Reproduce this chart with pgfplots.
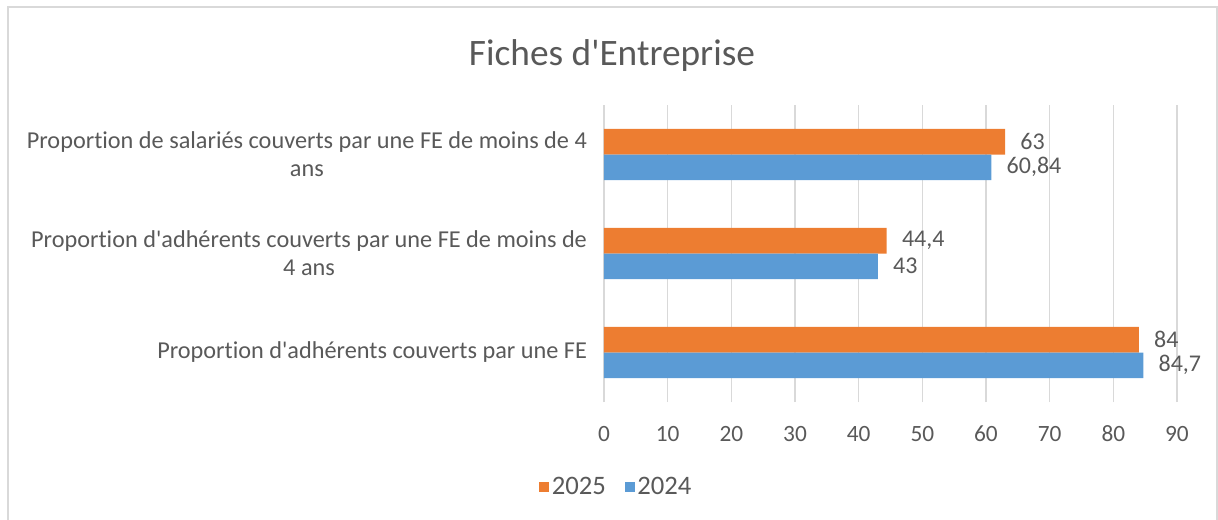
\documentclass[border=0pt]{standalone}
\usepackage{fontspec}
\setmainfont{Carlito}[Ligatures=NoCommon]
\usepackage{pgfplots}
\pgfplotsset{compat=1.18}

\definecolor{orangeXL}{HTML}{ED7D31}
\definecolor{blueXL}{HTML}{5B9BD5}
\definecolor{txtgray}{HTML}{595959}
\definecolor{gridgray}{HTML}{D9D9D9}

\begin{document}
\begin{tikzpicture}
\useasboundingbox (0,0) rectangle (913.5pt,-389.25pt);
% chart frame
\draw[gridgray,line width=1.2pt] (6pt,-420pt) -- (6pt,-5.25pt) -- (912.75pt,-5.25pt) -- (912.75pt,-420pt);
\node[txtgray,font=\fontsize{28}{32}\selectfont] at (459pt,-41.5pt) {Fiches d\textquotesingle Entreprise};

\begin{axis}[
  at={(453pt,-301.5pt)},anchor=south west,
  scale only axis,width=429.75pt,height=222.75pt,
  xbar,
  xmin=0,xmax=90,ymin=-0.5,ymax=2.5,
  xtick={0,10,...,90},
  ytick={0,1,2},
  yticklabels={{Proportion d\textquotesingle adhérents couverts par une FE},
               {Proportion d\textquotesingle adhérents couverts par une FE de moins de\\4 ans},
               {Proportion de salariés couverts par une FE de moins de 4\\ans}},
  axis line style={draw=none},
  major tick style={draw=none},
  xmajorgrids=true,
  grid style={gridgray,line width=0.9pt},
  /pgf/number format/assume math mode=true,
  /pgf/number format/use comma,
  tick label style={txtgray,font=\fontsize{17.5}{20}\selectfont},
  yticklabel style={align=center,anchor=east,xshift=-5pt,font=\fontsize{18.2}{21}\selectfont},
  xticklabel style={yshift=-14.5pt},
  bar width=0.258,
  nodes near coords,
  point meta=x,
  nodes near coords style={txtgray,anchor=west,xshift=8pt,font=\fontsize{18}{20}\selectfont},
  legend style={at={(0.022,-0.286)},anchor=center,draw=none,fill=none,
    legend columns=2,font=\fontsize{20}{22}\selectfont,text=txtgray,
    /tikz/every even column/.append style={column sep=12pt}},
  legend image code/.code={\fill[#1] (0pt,-3.75pt) rectangle (7.5pt,3.75pt);},
]
\addplot[fill=orangeXL,draw=none,bar shift=0.129] coordinates {(84,0) (44.4,1) (63,2)};
\addplot[fill=blueXL,draw=none,bar shift=-0.129] coordinates {(84.7,0) (43,1) (60.84,2)};
\legend{2025,2024}
\end{axis}
\end{tikzpicture}
\end{document}
